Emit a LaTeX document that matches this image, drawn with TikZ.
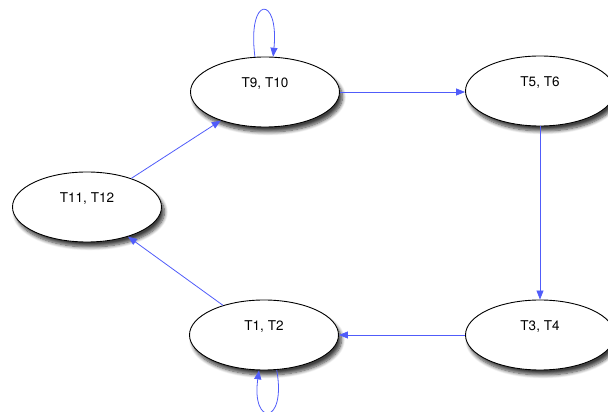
\documentclass[tikz,border=0pt]{standalone}
\usepackage{fontspec}
\setmainfont{TeX Gyre Heros}
\usepackage{tikz}
\usetikzlibrary{arrows.meta}
\usetikzlibrary{shapes,shadows.blur}
\definecolor{edgeblue}{RGB}{80,92,250}

\begin{document}
\begin{tikzpicture}[x=1pt,y=1pt,thin]
\tikzstyle{state}=[ellipse,draw=black,line width=0.9pt,fill=white,minimum width=149pt,minimum height=70pt,inner sep=0pt,font=\fontsize{13.5}{15}\selectfont,blur shadow={shadow xshift=3pt,shadow yshift=-5pt,shadow opacity=75,shadow blur steps=8,shadow blur radius=3.5pt}]
\tikzstyle{trans}=[draw=edgeblue,line width=0.8pt,-{Triangle[length=9pt,width=7pt]}]
\useasboundingbox (0,0) rectangle (608,412);
\node [state] (t9)  at (265,320) {\raisebox{4.5pt}[0pt][0pt]{T9, T10}};
\node [state] (t5)  at (540,321) {\raisebox{4.5pt}[0pt][0pt]{T5, T6}};
\node [state] (t3)  at (540,77)  {\raisebox{4.5pt}[0pt][0pt]{T3, T4}};
\node [state] (t1)  at (264,77)  {\raisebox{4.5pt}[0pt][0pt]{T1, T2}};
\node [state] (t11) at (87,205)  {\raisebox{4.5pt}[0pt][0pt]{T11, T12}};
\draw [trans] (t9) -- (t9 -| t5.west);
\draw [trans] (t5) -- (t3);
\draw [trans] (t3.west |- t1) -- (t1);
\draw [trans] (t1) -- (t11);
\draw [trans] (t11) -- (t9);
% self loops
\draw [trans] (t9.106) .. controls +(-8,62) and +(6,62) .. (t9.77);
\draw [trans] (t1.-70) .. controls +(10,-56) and +(-8,-56) .. (t1.-98);
\end{tikzpicture}
\end{document}
